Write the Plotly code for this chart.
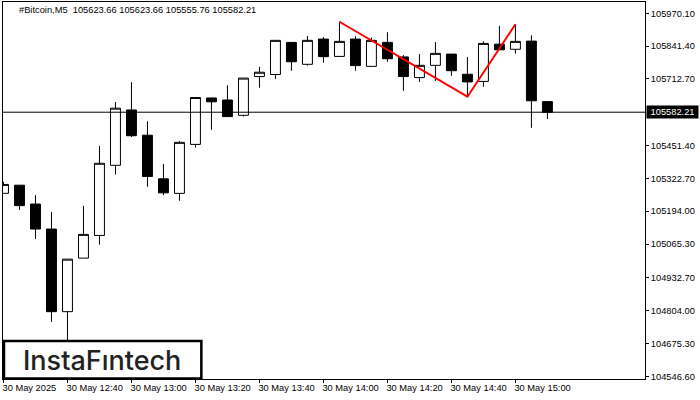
import plotly.graph_objects as go

W, H = 700, 400
L, R, T, B = 2.5, 55, 2, 21
PW, PH = W - L - R, H - T - B

symbol = "#Bitcoin,M5"
candle_index = list(range(35))
opens = [105264, 105296, 105222, 105124, 104800, 105010, 105099, 105374, 105591, 105492, 105321, 105264,
         105456, 105638, 105630, 105570, 105722, 105730, 105856, 105770, 105869, 105801, 105869, 105762,
         105856, 105799, 105718, 105766, 105810, 105731, 105703, 105849, 105829, 105861, 105623.66]
highs = [105309, 105296, 105257, 105191, 105006, 105215, 105450, 105622, 105700, 105547, 105379, 105469,
         105640, 105638, 105688, 105716, 105760, 105864, 105856, 105881, 105877, 105937, 105881, 105875,
         105896, 105806, 105810, 105857, 105810, 105799, 105860, 105921, 105927, 105884, 105623.66]
lows = [105264, 105199, 105085, 104760, 104669, 105010, 105063, 105338, 105485, 105290, 105257, 105235,
        105443, 105513, 105565, 105565, 105678, 105713, 105745, 105765, 105776, 105801, 105745, 105762,
        105780, 105666, 105701, 105705, 105725, 105643, 105682, 105827, 105812, 105521, 105555.76]
closes = [105299, 105216, 105124, 104800, 105006, 105103, 105382, 105598, 105490, 105330, 105266, 105464,
          105640, 105623, 105565, 105716, 105739, 105864, 105780, 105864, 105800, 105860, 105765, 105864,
          105792, 105722, 105766, 105813, 105745, 105701, 105852, 105827, 105860, 105627, 105582.21]

pattern_index = [21, 29, 32]
pattern_price = [105937, 105643, 105927]

last_price = 105582.21
y_ticks = [105970.10, 105841.40, 105712.70, 105451.40, 105322.70, 105194.00, 105065.30,
           104932.70, 104804.00, 104675.30, 104546.60]
x_tick_index = [0, 4, 8, 12, 16, 20, 24, 28, 32]
x_tick_labels = ["30 May 2025", "30 May 12:40", "30 May 13:00", "30 May 13:20", "30 May 13:40",
                 "30 May 14:00", "30 May 14:20", "30 May 14:40", "30 May 15:00"]

FONT = "Liberation Sans"
FS = 9.3

fig = go.Figure()
fig.add_trace(go.Candlestick(
    x=candle_index, open=opens, high=highs, low=lows, close=closes,
    increasing=dict(line=dict(color="black", width=1), fillcolor="white"),
    decreasing=dict(line=dict(color="black", width=1), fillcolor="black"),
    whiskerwidth=0, showlegend=False, hoverinfo="skip",
))
fig.add_trace(go.Scatter(
    x=pattern_index, y=pattern_price, mode="lines",
    line=dict(color="#ff0000", width=2), showlegend=False, hoverinfo="skip",
))


def fx(x):
    return (x - L) / PW


def fy(y):
    return (H - B - y) / PH


annotations = [
    dict(x=fx(16.5), y=fy(10), xref="paper", yref="paper", xanchor="left", yanchor="middle",
         showarrow=False, text=f"{symbol}  {opens[-1]} {highs[-1]} {lows[-1]} {closes[-1]}",
         font=dict(family=FONT, size=FS, color="black")),
    dict(x=1, xref="paper", y=last_price, yref="y", xanchor="left", yanchor="middle",
         xshift=1, showarrow=False, text=f" {last_price:.2f} ", bgcolor="black",
         font=dict(family=FONT, size=FS, color="white"), borderpad=1),
    dict(x=fx(102), y=fy(360), xref="paper", yref="paper", xanchor="center", yanchor="middle",
         showarrow=False, text="InstaFıntech",
         font=dict(family="Inter, Lato, sans-serif", size=27, color="#222222", weight=500)),
]

shapes = [
    dict(type="line", xref="paper", x0=0, x1=1, yref="y", y0=last_price, y1=last_price,
         line=dict(color="black", width=1), layer="above"),
    dict(type="rect", xref="paper", yref="paper",
         x0=fx(3.5), x1=fx(201), y0=fy(378.5), y1=fy(341),
         line=dict(color="black", width=2.5), fillcolor="white", layer="above"),
]

fig.update_layout(
    width=W, height=H, autosize=False,
    margin=dict(l=L, r=R, t=T, b=B, pad=0, autoexpand=False),
    paper_bgcolor="white", plot_bgcolor="white",
    showlegend=False, boxgap=0.38, boxgroupgap=0,
    annotations=annotations, shapes=shapes,
    font=dict(family=FONT, size=FS, color="black"),
)
fig.update_xaxes(
    range=[-0.03, 40.1], rangeslider=dict(visible=False), showgrid=False, zeroline=False,
    showline=True, linecolor="black", linewidth=1, mirror=True, automargin=False,
    tickmode="array", tickvals=x_tick_index, ticktext=x_tick_labels, tickangle=0,
    ticks="outside", ticklen=3, tickcolor="black", tickwidth=1,
    ticklabelposition="outside right", ticklabelshift=-2,
    tickfont=dict(family=FONT, size=FS, color="black"),
)
fig.update_yaxes(
    range=[104536.0, 106014.4], side="right", showgrid=False, zeroline=False,
    showline=True, linecolor="black", linewidth=1, mirror=True, automargin=False,
    tickmode="array", tickvals=y_ticks, ticktext=[f"{v:.2f}" for v in y_ticks],
    ticks="outside", ticklen=3, tickcolor="black", tickwidth=1,
    tickfont=dict(family=FONT, size=FS, color="black"),
)

fig.write_html("out.html", config={"displayModeBar": False},
               post_script="document.body.style.margin='0';")
